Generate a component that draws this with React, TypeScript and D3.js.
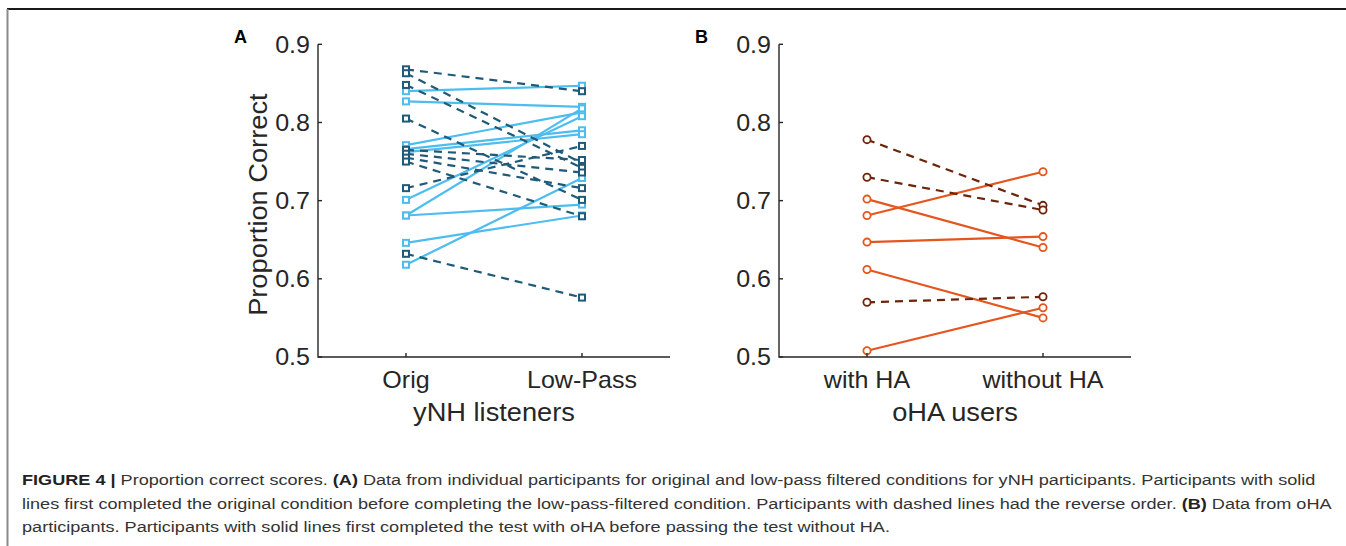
import React from "react";
import * as d3 from "d3";

// panel A: yNH listeners
const conditionsA = ["Orig", "Low-Pass"];
const ynhSolidOrig = [0.84, 0.827, 0.771, 0.766, 0.762, 0.701, 0.681, 0.681, 0.646, 0.618];
const ynhSolidLow = [0.847, 0.82, 0.813, 0.79, 0.785, 0.808, 0.818, 0.695, 0.681, 0.729];
const ynhDashedOrig = [0.868, 0.863, 0.848, 0.805, 0.765, 0.76, 0.755, 0.75, 0.716, 0.632];
const ynhDashedLow = [0.84, 0.748, 0.742, 0.701, 0.752, 0.736, 0.716, 0.68, 0.77, 0.576];

// panel B: oHA users
const conditionsB = ["with HA", "without HA"];
const ohaSolidWith = [0.702, 0.681, 0.647, 0.612, 0.508];
const ohaSolidWithout = [0.64, 0.737, 0.654, 0.55, 0.563];
const ohaDashedWith = [0.778, 0.73, 0.57];
const ohaDashedWithout = [0.694, 0.688, 0.577];

const yTicks = [0.5, 0.6, 0.7, 0.8, 0.9];

const captionLines = [
  [
    { b: true, t: "FIGURE 4 | " },
    { b: false, t: "Proportion correct scores. " },
    { b: true, t: "(A)" },
    {
      b: false,
      t: " Data from individual participants for original and low-pass filtered conditions for yNH participants. Participants with solid",
    },
  ],
  [
    {
      b: false,
      t: "lines first completed the original condition before completing the low-pass-filtered condition. Participants with dashed lines had the reverse order. ",
    },
    { b: true, t: "(B)" },
    { b: false, t: " Data from oHA" },
  ],
  [
    {
      b: false,
      t: "participants. Participants with solid lines first completed the test with oHA before passing the test without HA.",
    },
  ],
];

const W = 1346;
const H = 546;
const TOP = 44.3;
const BOTTOM = 357;
const AXIS = "#262626";
const FONT = "'Liberation Sans', Arial, Helvetica, sans-serif";
const WIDE = 1.09; // chart lettering runs a bit wider than Liberation Sans

const LIGHT = "#4dbdef";
const DARK = "#1f5a78";
const ORANGE = "#e5561f";
const BROWN = "#6c250a";

const y = d3.scaleLinear().domain([0.5, 0.9]).range([BOTTOM, TOP]);

// text stretched along its own direction
function SText({
  x,
  y,
  rotate = 0,
  sx = WIDE,
  children,
  ...rest
}: React.SVGProps<SVGTextElement> & { x: number; y: number; rotate?: number; sx?: number }) {
  return (
    <text transform={`translate(${x},${y}) rotate(${rotate}) scale(${sx},1)`} {...rest}>
      {children}
    </text>
  );
}

type PanelProps = {
  left: number;
  conditions: string[];
  title: string;
  letter: string;
  yLabel?: string;
  children: (x: d3.ScalePoint<string>) => React.ReactNode;
};

function Panel({ left, conditions, title, letter, yLabel, children }: PanelProps) {
  const x = d3.scalePoint<string>().domain(conditions).range([left, left + 352]).padding(0.5);
  const [x0, x1] = x.range();
  return (
    <g fontFamily={FONT} fill={AXIS}>
      <text x={left - 84} y={42.5} fontSize={18} fontWeight="bold" fill="#000">
        {letter}
      </text>
      {children(x)}
      <path d={`M${x0},${TOP}V${BOTTOM}H${x1}`} fill="none" stroke={AXIS} strokeWidth={1.4} />
      {yTicks.map((t) => (
        <g key={t}>
          <line x1={x0} x2={x0 + 4} y1={y(t)} y2={y(t)} stroke={AXIS} strokeWidth={1.4} />
          <SText x={x0 - 8} y={y(t)} dy="0.36em" textAnchor="end" fontSize={23}>
            {d3.format(".1f")(t)}
          </SText>
        </g>
      ))}
      {conditions.map((c) => (
        <g key={c}>
          <line x1={x(c)} x2={x(c)} y1={BOTTOM} y2={BOTTOM - 4} stroke={AXIS} strokeWidth={1.4} />
          <SText x={x(c) as number} y={388} textAnchor="middle" fontSize={23}>
            {c}
          </SText>
        </g>
      ))}
      <SText x={(x0 + x1) / 2} y={421} textAnchor="middle" fontSize={25}>
        {title}
      </SText>
      {yLabel && (
        <SText x={left - 51} y={(TOP + BOTTOM) / 2 + 4} rotate={-90} textAnchor="middle" fontSize={25}>
          {yLabel}
        </SText>
      )}
    </g>
  );
}

function Pairs({
  x,
  a,
  b,
  color,
  dashed,
  marker,
}: {
  x: d3.ScalePoint<string>;
  a: number[];
  b: number[];
  color: string;
  dashed: boolean;
  marker: "square" | "circle";
}) {
  const [c0, c1] = x.domain();
  const line = d3
    .line<[string, number]>()
    .x((d) => x(d[0]) as number)
    .y((d) => y(d[1]));
  return (
    <g>
      {a.map((v, i) => (
        <path
          key={"l" + i}
          d={line([
            [c0, v],
            [c1, b[i]],
          ]) as string}
          fill="none"
          stroke={color}
          strokeWidth={2.2}
          strokeDasharray={dashed ? "8,6" : undefined}
        />
      ))}
      {a.flatMap((v, i) =>
        [
          [c0, v],
          [c1, b[i]],
        ].map(([c, val], j) =>
          marker === "square" ? (
            <rect
              key={"m" + i + "-" + j}
              x={(x(c as string) as number) - 3}
              y={y(val as number) - 3}
              width={6}
              height={6}
              fill="#fff"
              stroke={color}
              strokeWidth={2}
            />
          ) : (
            <circle
              key={"m" + i + "-" + j}
              cx={x(c as string) as number}
              cy={y(val as number)}
              r={3.6}
              fill="#fff"
              stroke={color}
              strokeWidth={1.8}
            />
          )
        )
      )}
    </g>
  );
}

export default function App() {
  return (
    <div style={{ position: "absolute", left: 0, top: 0 }}>
      <svg width={W} height={H} style={{ display: "block", background: "#fff" }}>
        <line x1={7} x2={W} y1={9} y2={9} stroke="#1a1a1a" strokeWidth={2} />
        <line x1={7.5} x2={7.5} y1={9} y2={H} stroke="#8a8a8a" strokeWidth={2} />

        <Panel left={318} conditions={conditionsA} title="yNH listeners" letter="A" yLabel="Proportion Correct">
          {(x) => (
            <>
              <Pairs x={x} a={ynhSolidOrig} b={ynhSolidLow} color={LIGHT} dashed={false} marker="square" />
              <Pairs x={x} a={ynhDashedOrig} b={ynhDashedLow} color={DARK} dashed={true} marker="square" />
            </>
          )}
        </Panel>

        <Panel left={779} conditions={conditionsB} title="oHA users" letter="B">
          {(x) => (
            <>
              <Pairs x={x} a={ohaSolidWith} b={ohaSolidWithout} color={ORANGE} dashed={false} marker="circle" />
              <Pairs x={x} a={ohaDashedWith} b={ohaDashedWithout} color={BROWN} dashed={true} marker="circle" />
            </>
          )}
        </Panel>

        <g fontFamily={FONT} fontSize={15.5} fill="#333">
          {captionLines.map((parts, i) => (
            <SText key={i} x={22} y={485 + i * 23.5} sx={1.168}>
              {parts.map((p, j) => (
                <tspan key={j} fontWeight={p.b ? "bold" : "normal"} fill={p.b ? "#222" : "#333"}>
                  {p.t}
                </tspan>
              ))}
            </SText>
          ))}
        </g>
      </svg>
    </div>
  );
}
